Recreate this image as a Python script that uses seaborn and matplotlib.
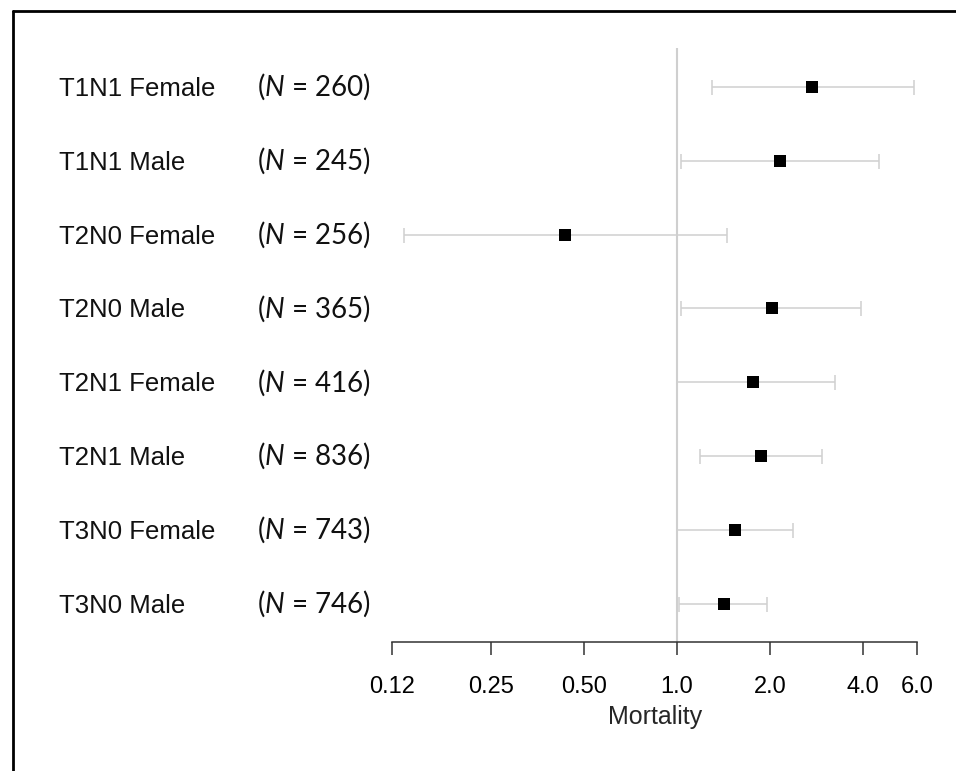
import numpy as np
import pandas as pd
import matplotlib.pyplot as plt
import matplotlib.transforms as mtrans
from matplotlib.lines import Line2D
from matplotlib.ticker import NullLocator
import seaborn as sns

sns.set_style("white")
plt.rcParams["font.family"] = ["Liberation Sans", "DejaVu Sans"]
plt.rcParams["mathtext.fontset"] = "custom"
plt.rcParams["mathtext.rm"] = "Lato"
plt.rcParams["mathtext.it"] = "Lato:italic"

# --- data ---
groups = ["T1N1 Female", "T1N1 Male", "T2N0 Female", "T2N0 Male",
          "T2N1 Female", "T2N1 Male", "T3N0 Female", "T3N0 Male"]
n_sizes = [260, 245, 256, 365, 416, 836, 743, 746]
estimate = [2.74, 2.16, 0.436, 2.03, 1.76, 1.87, 1.54, 1.42]
ci_low = [1.30, 1.03, 0.131, 1.03, 1.00, 1.19, 1.00, 1.02]
ci_high = [5.85, 4.52, 1.45, 3.96, 3.25, 2.95, 2.37, 1.96]
tick_vals = [0.12, 0.25, 0.5, 1.0, 2.0, 4.0, 6.0]
tick_labels = ["0.12", "0.25", "0.50", "1.0", "2.0", "4.0", "6.0"]

df = pd.DataFrame({"group": groups, "n": n_sizes, "est": estimate,
                   "lo": ci_low, "hi": ci_high, "pos": np.arange(len(groups))})

W, H = 956, 771
fig = plt.figure(figsize=(W / 100, H / 100), dpi=100)
ax = fig.add_axes([392.3 / W, (H - 641.7) / H, 524.9 / W, 593.7 / H])

ax.axvline(1.0, color="#cfcfcf", lw=1.5, zorder=1)
ax.errorbar(df["est"], df["pos"], xerr=[df["est"] - df["lo"], df["hi"] - df["est"]],
            fmt="none", ecolor="#d0d0d0", elinewidth=1.1, capsize=5.4, capthick=1.1, zorder=2)
sns.scatterplot(data=df, x="est", y="pos", marker="s", s=74, color="black",
                linewidth=0, ax=ax, zorder=3, legend=False)

ax.set_xscale("log", base=2)
ax.set_xlim(0.12, 6.0)
ax.set_ylim(len(groups) - 1 + 0.51, -0.524)
ax.set_xticks(tick_vals, tick_labels)
ax.xaxis.set_minor_locator(NullLocator())
ax.set_yticks([])
ax.set_ylabel("")
ax.set_xlabel("Mortality", fontsize=18, labelpad=5)

for s in ["top", "right", "left"]:
    ax.spines[s].set_visible(False)
ax.spines["bottom"].set_color("#333333")
ax.spines["bottom"].set_linewidth(1.1)
ax.tick_params(axis="x", bottom=True, direction="out", length=9.4, width=1.1,
               color="#333333", labelsize=17, pad=15, labelcolor="black")

# row labels and sample sizes
trans = mtrans.blended_transform_factory(fig.transFigure, ax.transData)
trans_lab = trans + mtrans.ScaledTranslation(0, -2 / 100, fig.dpi_scale_trans)
for i, row in df.iterrows():
    ax.text(59.3 / W, row["pos"], row["group"], transform=trans_lab, ha="left",
            va="center", fontsize=18.5, color="#111111")
    ax.text(257 / W, row["pos"], f"($\\mathit{{N}}$ = {row['n']})", transform=trans,
            ha="left", va="center", fontsize=20, family="Lato", color="#111111")

# frame lines (top and left)
fig.add_artist(Line2D([13 / W, 13 / W], [0, 1 - 11 / H], transform=fig.transFigure,
                      color="black", lw=2))
fig.add_artist(Line2D([13 / W, 1], [1 - 11 / H, 1 - 11 / H], transform=fig.transFigure,
                      color="black", lw=2))

fig.savefig("out.png", dpi=100)
